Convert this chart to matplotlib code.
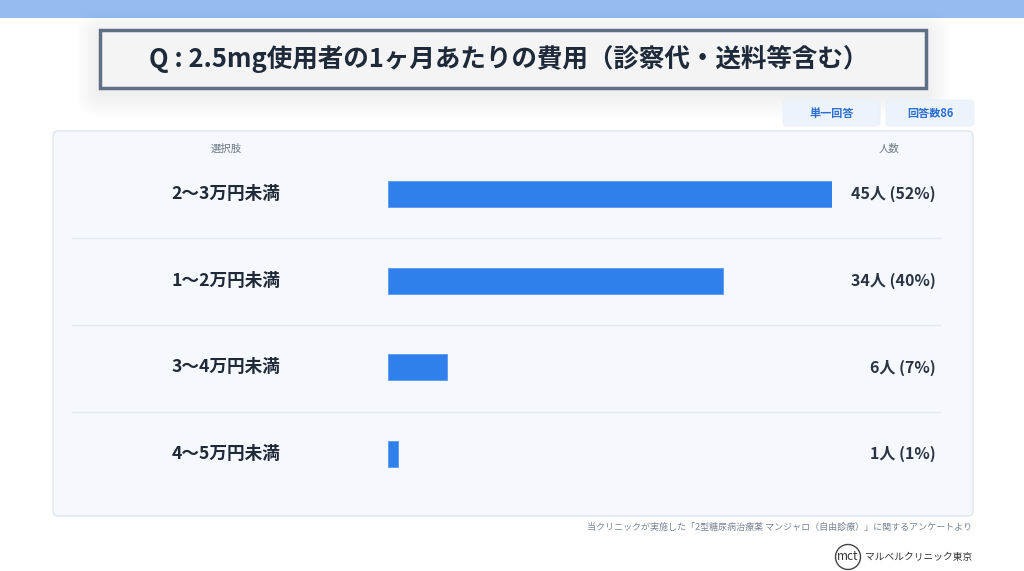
import matplotlib
matplotlib.use("Agg")
import matplotlib.pyplot as plt
from matplotlib.patches import FancyBboxPatch, Rectangle, Circle
import matplotlib.transforms as mtransforms

plt.rcParams['font.family'] = ['Noto Sans CJK JP', 'DejaVu Sans']

# ---- data ----
title = "Q : 2.5mg使用者の1ヶ月あたりの費用（診察代・送料等含む）"
categories = ["2〜3万円未満", "1〜2万円未満", "3〜4万円未満", "4〜5万円未満"]
counts = [45, 34, 6, 1]
percents = [52, 40, 7, 1]
badge_labels = ["単一回答", "回答数86"]
col_headers = ["選択肢", "人数"]
footer_note = "当クリニックが実施した「2型糖尿病治療薬 マンジャロ（自由診療）」に関するアンケートより"
brand = "マルベルクリニック東京"

W, H = 1024, 571
fig = plt.figure(figsize=(W / 100, H / 100), dpi=100)
fig.patch.set_facecolor("white")

# overlay axes in pixel coordinates
ov = fig.add_axes([0, 0, 1, 1])
ov.set_xlim(0, W)
ov.set_ylim(H, 0)
ov.axis("off")

# top band
ov.add_patch(Rectangle((0, 0), W, 18, color="#94bcf0", lw=0))

# title box soft shadow
for i in range(8):
    d = 3 + i * 3
    ov.add_patch(FancyBboxPatch((100 - d, 30 - d + 5), 826 + 2 * d, 58 + 2 * d,
                                boxstyle="round,pad=0,rounding_size=%d" % d,
                                facecolor="black", alpha=0.007, lw=0))
ov.add_patch(Rectangle((100, 30), 826, 58, facecolor="#f4f4f4",
                       edgecolor="#5f6f86", lw=2.5))
ov.text(509, 59, title, ha="center", va="center", fontsize=18.4,
        fontweight="bold", color="#1e2a3a")

# badges
badge_boxes = [(783, 100, 97, 26), (886, 100, 88, 26)]
for (x, y, w, h), lab in zip(badge_boxes, badge_labels):
    ov.add_patch(FancyBboxPatch((x, y), w, h, boxstyle="round,pad=0,rounding_size=4",
                                facecolor="#edf3fb", edgecolor="#e8eff9", lw=0.6))
    ov.text(x + w / 2, y + h / 2, lab, ha="center", va="center", fontsize=8,
            fontweight="bold", color="#2b6fd3")

# panel
ov.add_patch(FancyBboxPatch((53, 131), 920, 385, boxstyle="round,pad=0,rounding_size=5",
                            facecolor="#f5f8fc", edgecolor="#dfe6ee", lw=1))

# headers
ov.text(226, 149, col_headers[0], ha="center", va="center", fontsize=7.5, color="#6b7785")
ov.text(889, 149, col_headers[1], ha="center", va="center", fontsize=7.5, color="#6b7785")

# row separators
for yy in [238, 325, 412]:
    ov.plot([72, 940], [yy, yy], color="#e3e9f1", lw=1)

# footer
ov.text(972, 527, footer_note, ha="right", va="center", fontsize=6.5, color="#7a8594")
ov.add_patch(Circle((848, 557), 12.5, facecolor="white", edgecolor="#444444", lw=1))
ov.text(848, 557, "mct", ha="center", va="center", fontsize=8.5, color="#333333")
ov.text(972, 557, brand, ha="right", va="center", fontsize=7, color="#333333")

# bar axes: x 0..45 maps to pixels 388..832, rows centred at 194..454
x0, x1 = 388, 832
row_h = 86.7
y_top = 194 - row_h / 2
y_bot = y_top + row_h * len(categories)
ax = fig.add_axes([x0 / W, 1 - y_bot / H, (x1 - x0) / W, (y_bot - y_top) / H])
ax.set_facecolor("none")
ax.set_xlim(0, max(counts))
ax.set_ylim(len(categories) - 0.5, -0.5)
ax.axis("off")

ypos = list(range(len(categories)))
ax.barh(ypos, counts, height=0.3, color="#2f80ed", edgecolor="#5a9af0", lw=0.6)

blend = mtransforms.blended_transform_factory(ax.transAxes, ax.transData)
for i, (c, n, p) in enumerate(zip(categories, counts, percents)):
    ax.text(-0.365, i, c, transform=blend,
            ha="center", va="center", fontsize=12.7, fontweight="bold", color="#1f2937")
    ax.text(1.2342, i, f"{n}人 ({p}%)", transform=blend,
            ha="right", va="center", fontsize=11.5, fontweight="bold", color="#2b3442")

fig.savefig("out.png", dpi=100, facecolor="white")
